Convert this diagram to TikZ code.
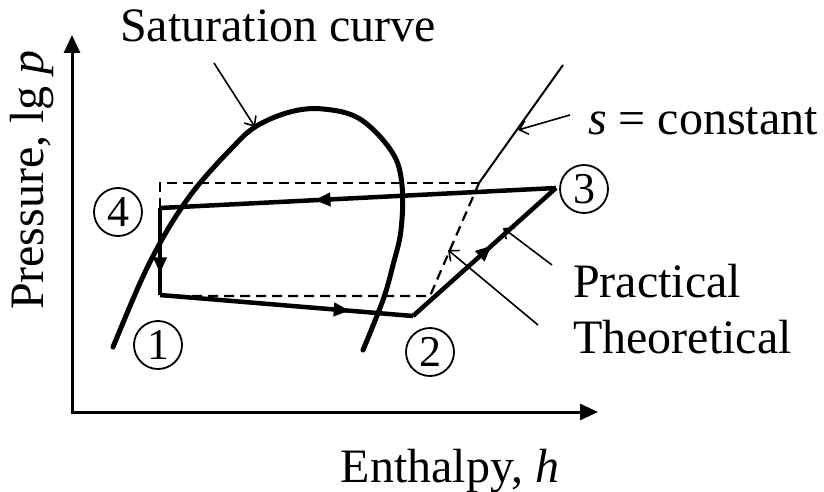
\documentclass[tikz,border=0pt]{standalone}
\usepackage{fontspec}
\setmainfont{Liberation Serif}
\usepackage{tikz}
\usetikzlibrary{arrows.meta,decorations.markings}

\begin{document}
\begin{tikzpicture}[
  x=1pt, y=-1pt,
  txt/.style={font=\fontsize{48}{56}\selectfont, inner sep=0pt},
  statelbl/.style={draw, circle, line width=1.8pt, minimum size=48pt, inner sep=0pt,
                   font=\fontsize{44}{44}\selectfont},
  axis/.style={line width=3pt, {Triangle[length=18pt,width=16pt]}-{Triangle[length=18pt,width=16pt]}},
  cycleline/.style={line width=4.5pt, line join=miter},
  dashline/.style={line width=2.2pt, dash pattern=on 10pt off 6pt},
  pointer/.style={line width=1.6pt, -{Straight Barb[length=8pt,width=14pt]}},
  midarrow/.style={postaction={decorate}, decoration={markings,
      mark=at position #1 with {\arrow{Triangle[length=16pt,width=13pt]}}}}
]
  \useasboundingbox (0,0) rectangle (824,492);

  % axes
  \coordinate (origin) at (72,412);
  \coordinate (ytip)   at (72,35);
  \coordinate (xtip)   at (598,412);
  \draw[axis] (ytip) |- (xtip);

  \node[txt, anchor=base] (xlab) at (450,482) {Enthalpy, \textit{h}};
  \node[txt, anchor=base, rotate=90] (ylab) at (43,180) {Pressure, lg \textit{p}};

  % saturation curve
  \draw[line width=5pt, line cap=round] plot[smooth, tension=0.6] coordinates {
    (113,347) (140,283) (160,243) (180,210) (200,183) (230,150) (255,127)
    (290,112) (323,109) (360,119) (392,152) (402,185) (401,230) (393,265)
    (383,300) (363,350)};

  % state points
  \coordinate (p4) at (160,208);
  \coordinate (p1) at (160,295);
  \coordinate (p2) at (413,316);
  \coordinate (p3) at (556,188);

  % theoretical cycle
  \coordinate (t4) at (160,183);
  \coordinate (t3) at (479,183);
  \coordinate (t1) at (160,296);
  \coordinate (t2) at (430,296);
  \draw[dashline] (p4) -- (t4) -- (t3);
  \draw[dashline] (t1) -- (t2) -- (t3);

  % s = constant line
  \coordinate (s1) at (563,65);
  \draw[line width=2pt] (t3) -- (s1);

  % practical cycle
  \draw[cycleline, midarrow=0.61] (p3) -- (p4);
  \draw[cycleline, midarrow=0.75] (p4) -- (p1);
  \draw[cycleline, midarrow=0.75] (p1) -- (p2);
  \draw[cycleline, midarrow=0.55] (p2) -- (p3);

  \node[statelbl] (n4) at (118,212) {4};
  \node[statelbl] (n1) at (158,345) {1};
  \node[statelbl] (n2) at (430,352) {2};
  \node[statelbl] (n3) at (584,189) {3};

  % labels and pointers
  \node[txt, anchor=base west] (satlab) at (120,42) {Saturation curve};
  \node[txt, anchor=base west] (slab) at (588,135) {\textit{s} = constant};
  \node[txt, anchor=base west] (praclab) at (573,297) {Practical};
  \node[txt, anchor=base west] (theolab) at (573,353) {Theoretical};

  \coordinate (satfrom) at (214,63);
  \coordinate (satto)   at (255,127);
  \coordinate (sfrom)   at (570,115);
  \coordinate (sto)     at (518,130);
  \coordinate (pfrom)   at (552,265);
  \coordinate (pto)     at (503,228);
  \coordinate (tfrom)   at (538,325);
  \coordinate (tto)     at (448,250);
  \draw[pointer] (satfrom) -- (satto);
  \draw[pointer] (sfrom) -- (sto);
  \draw[pointer] (pfrom) -- (pto);
  \draw[pointer] (tfrom) -- (tto);
\end{tikzpicture}
\end{document}
